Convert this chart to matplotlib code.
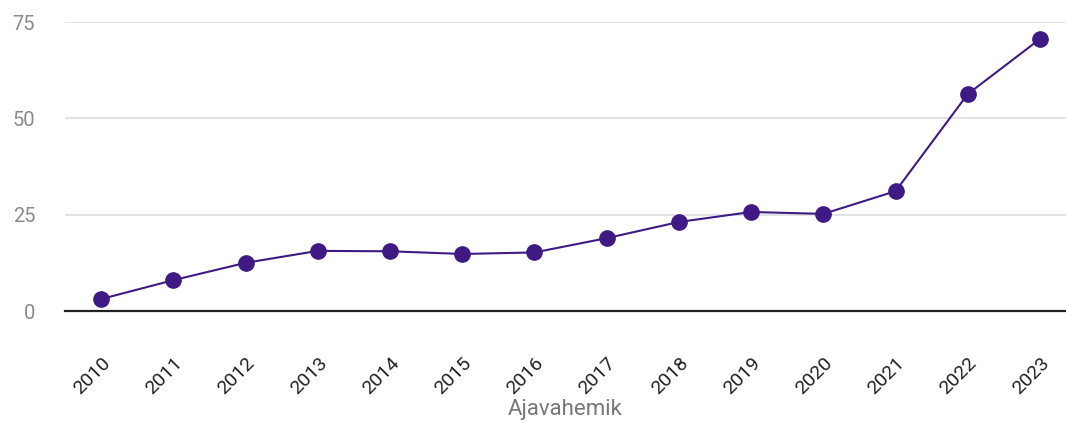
import matplotlib
matplotlib.use("Agg")
import matplotlib.pyplot as plt

plt.rcParams['font.family'] = ['Roboto', 'DejaVu Sans']

years = [str(y) for y in range(2010, 2024)]
values = [3.1, 8.0, 12.5, 15.6, 15.5, 14.8, 15.2, 18.9, 23.1, 25.7, 25.2, 31.1, 56.3, 70.6]
y_ticks = [0, 25, 50, 75]
x_label = "Ajavahemik"

LINE_COLOR = "#3f1a85"

fig = plt.figure(figsize=(10.66, 4.23), dpi=100)
ax = fig.add_axes([65 / 1066, (423 - 311) / 423, 1 - 65 / 1066, (311 - 22) / 423])

x = list(range(len(years)))
ax.plot(x, values, color=LINE_COLOR, linewidth=1.5, marker='o', markersize=11,
        markerfacecolor=LINE_COLOR, markeredgecolor=LINE_COLOR, clip_on=False, zorder=3)

ax.set_xlim(-0.5, 13.36)
ax.set_ylim(0, 75)
ax.set_yticks(y_ticks)
ax.yaxis.grid(True, color="#dddddd", linewidth=1.2)
ax.set_axisbelow(True)

for side in ['left', 'right', 'top']:
    ax.spines[side].set_visible(False)
ax.spines['bottom'].set_color('#222222')
ax.spines['bottom'].set_linewidth(1.6)
ax.spines['bottom'].set_zorder(2)

ax.tick_params(axis='y', length=0, pad=21.5, labelsize=14.5, labelcolor='#8a8a8a')
ax.tick_params(axis='x', length=0, pad=31, labelsize=14, labelcolor='#222222')
ax.set_xticks(x)
ax.set_xticklabels(years, rotation=45, ha='right', va='top', rotation_mode='anchor')

ax.set_xlabel(x_label, fontsize=16, color='#777777', labelpad=1)

fig.savefig("out.png", dpi=100)
